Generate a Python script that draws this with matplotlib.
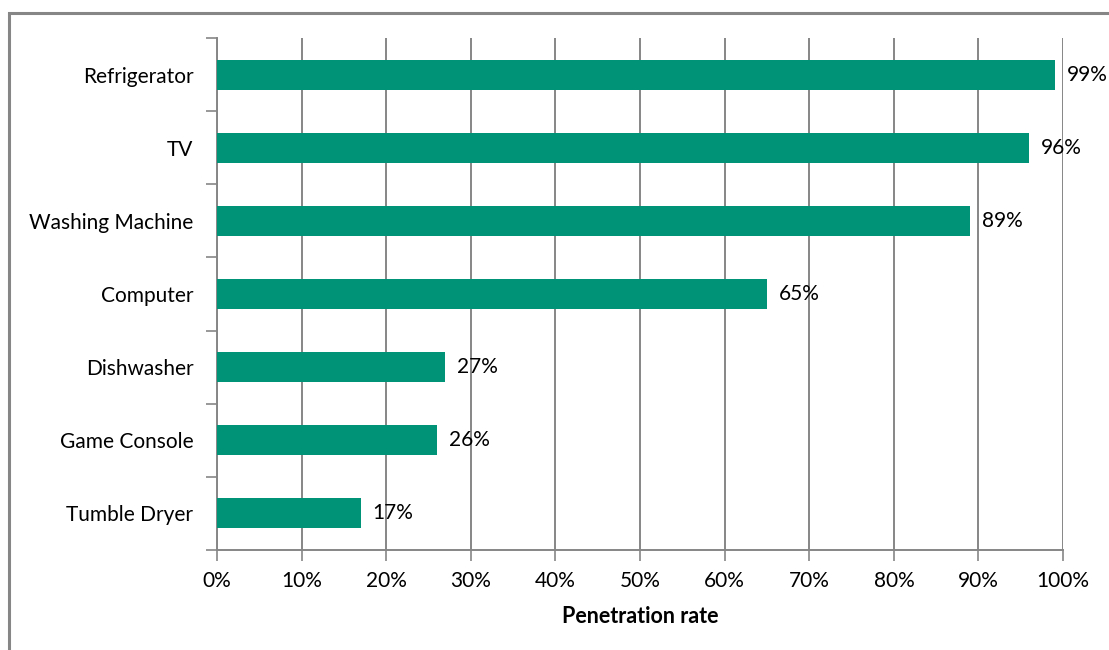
import numpy as np
import matplotlib
matplotlib.use('agg')
import matplotlib.pyplot as plt
from matplotlib.patches import Rectangle

# Data (top to bottom)
appliances = ["Refrigerator", "TV", "Washing Machine", "Computer",
              "Dishwasher", "Game Console", "Tumble Dryer"]
penetration = [99, 96, 89, 65, 27, 26, 17]
xticks = list(range(0, 101, 10))

bar_color = "#009378"
grid_color = "#868686"
font = ["Lato", "DejaVu Sans"]

plt.rcParams['font.family'] = font


def main():
    fig = plt.figure(figsize=(11.09, 6.5), dpi=100)
    ax = fig.add_axes([0.1957, 0.1538, 0.7629, 0.7877])

    # gray frame around the chart area (only left/top visible in the reference)
    fig.patches.append(Rectangle((9/1109, -0.1), 1.2, 1 - 13/650 + 0.1,
                                 transform=fig.transFigure, fill=False,
                                 edgecolor=grid_color, linewidth=2.2))

    n = len(appliances)
    pos = np.arange(n)[::-1]
    ax.barh(pos, penetration, height=0.41, color=bar_color, zorder=3)

    for y, v in zip(pos, penetration):
        ax.text(v + 1.4, y, "%d%%" % v, va='center', ha='left',
                fontsize=15, color='black', zorder=4)

    ax.set_xlim(0, 100)
    ax.set_ylim(-0.5, n - 0.5)
    ax.set_xticks(xticks)
    ax.set_xticklabels(["%d%%" % t for t in xticks], fontsize=15)
    ax.xaxis.grid(True, color=grid_color, linewidth=1.4, zorder=0)

    # category boundaries as major ticks, names as minor labels
    ax.set_yticks(np.arange(-0.5, n, 1.0))
    ax.set_yticklabels([])
    ax.set_yticks(pos, minor=True)
    ax.set_yticklabels(appliances, minor=True, fontsize=15)
    ax.tick_params(axis='y', which='minor', length=0, pad=17)
    ax.tick_params(axis='y', which='major', length=8, color=grid_color, width=1.2)
    ax.tick_params(axis='x', length=8, color=grid_color, width=1.2, pad=7)

    for s in ['top', 'right']:
        ax.spines[s].set_visible(False)
    for s in ['left', 'bottom']:
        ax.spines[s].set_color(grid_color)
        ax.spines[s].set_linewidth(1.4)

    ax.set_xlabel("Penetration rate", fontsize=15.5, fontweight='bold', labelpad=11)

    fig.savefig("out.png", format="png")


if __name__ == "__main__":
    main()
